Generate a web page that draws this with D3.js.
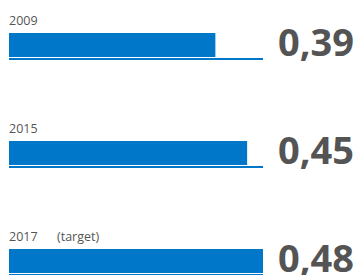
<!DOCTYPE html>
<html>
<head>
<meta charset="utf-8">
<script src="https://cdn.jsdelivr.net/npm/d3@7"></script>
<style>
    html, body { margin: 0; padding: 0; background: #fff; }
    #chart { width: 359px; height: 275px; }
</style>
</head>
<body>
<div id="chart"></div>
<script>
// Chart data
const years = ['2009', '2015', '2017'];
const values = [0.39, 0.45, 0.48];
const notes = ['', '', '(target)'];

const width = 359;
const height = 275;

const svg = d3.select('#chart')
    .append('svg')
    .attr('width', width)
    .attr('height', height);

const rows = years.map((y, i) => ({ year: y, value: values[i], note: notes[i] }));

// Scales
const xScale = d3.scaleLinear()
    .domain([0, d3.max(values)])
    .range([9, 263]);

const yScale = d3.scalePoint()
    .domain(years)
    .range([33, 249]);

const barH = 24;
const fmt = d3.formatLocale({ decimal: ',', thousands: '.', grouping: [3], currency: ['', ''] }).format('.2f');

const g = svg.selectAll('.row')
    .data(rows)
    .enter()
    .append('g')
    .attr('class', 'row')
    .attr('transform', d => `translate(0,${yScale(d.year)})`);

// Bars
g.append('rect')
    .attr('x', xScale(0))
    .attr('y', 0)
    .attr('width', d => xScale(d.value) - xScale(0))
    .attr('height', barH)
    .attr('fill', '#0077c8');

// Baseline under each bar
g.append('rect')
    .attr('x', xScale.range()[0])
    .attr('y', barH + 1)
    .attr('width', xScale.range()[1] - xScale.range()[0])
    .attr('height', 2)
    .attr('fill', '#0077c8');

// Year labels
g.append('text')
    .attr('x', 9)
    .attr('y', -8)
    .text(d => d.year)
    .style('font-family', '"Open Sans", sans-serif')
    .style('font-size', '12.5px')
    .style('fill', '#555');

g.append('text')
    .attr('x', 57)
    .attr('y', -8)
    .text(d => d.note)
    .style('font-family', '"Open Sans", sans-serif')
    .style('font-size', '12.5px')
    .style('fill', '#555');

// Values
g.append('text')
    .attr('x', 278)
    .attr('y', 22.5)
    .text(d => fmt(d.value))
    .style('font-family', '"Open Sans", sans-serif')
    .style('font-weight', 'bold')
    .style('font-size', '38px')
    .style('fill', '#545454');
</script>
</body>
</html>
